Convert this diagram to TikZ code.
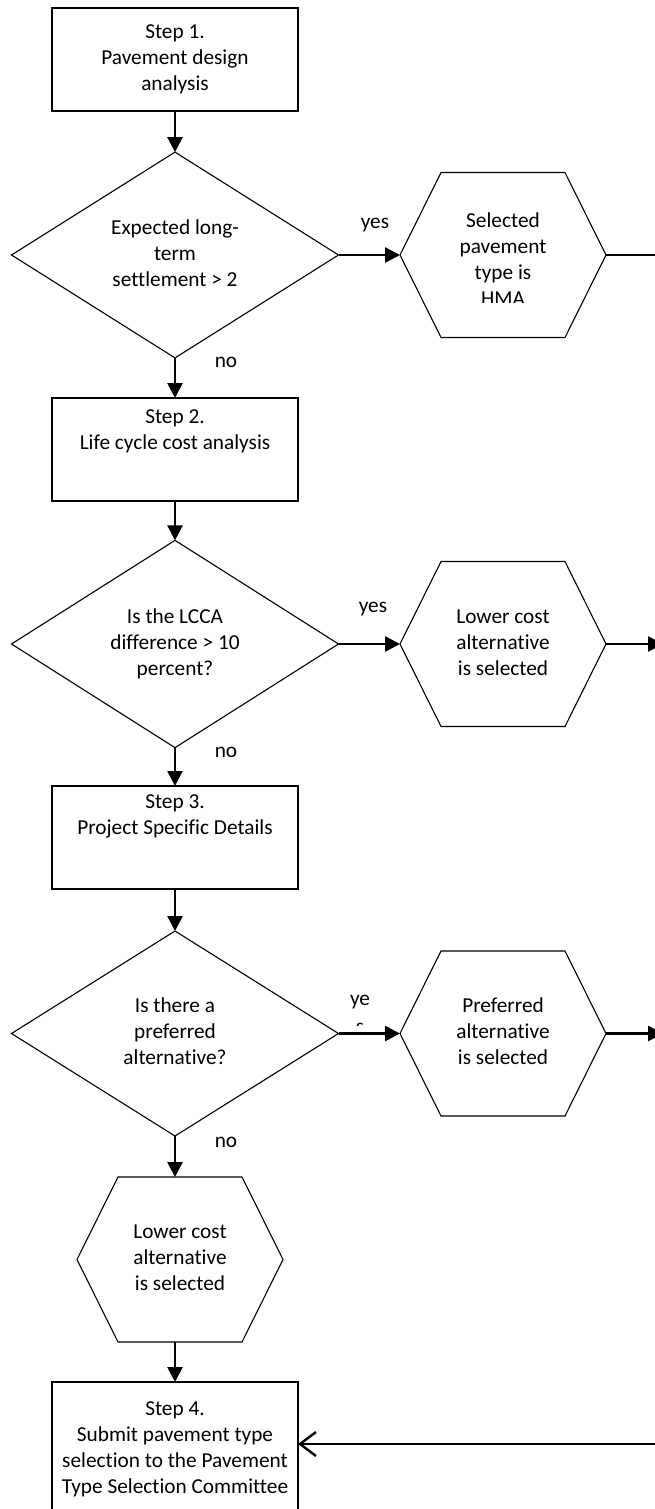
\documentclass[tikz,border=0pt]{standalone}
\usepackage{fontspec}
\setmainfont{Carlito}[RawFeature={-liga}]
\usetikzlibrary{arrows.meta,shapes.geometric,calc}
\newcommand\hexoutline[1]{\draw[shapeline] (#1.west) -- ($(#1.north west)+(41,0)$) -- ($(#1.north east)+(-41,0)$) -- (#1.east) -- ($(#1.south east)+(-41,0)$) -- ($(#1.south west)+(41,0)$) -- cycle;}
\begin{document}
\begin{tikzpicture}[x=1pt,y=-1pt,
  every node/.style={font=\fontsize{21.3}{26}\selectfont, align=center, inner sep=0pt, outer sep=0pt},
  shapeline/.style={draw=black, line width=1.1pt},
  stepbox/.style={shapeline, minimum width=246pt, minimum height=103pt},
  decision/.style={diamond, shapeline, minimum width=327pt, minimum height=205pt},
  hexbox/.style={minimum width=206pt, minimum height=165pt},
  conn/.style={line width=2.6pt, -{Triangle[length=15pt,width=15pt]}},
  plainconn/.style={line width=2.6pt},
  lbl/.style={font=\fontsize{21.3}{26}\selectfont}
]
\clip (0,0) rectangle (655,1509);
\fill[white] (0,0) rectangle (655,1509);

% Step 1
\node[stepbox] (s1) at (175,59.5) {\strut Step 1.\\ Pavement design\\ analysis\strut};
% Decision 1
\node[decision] (d1) at (175,255) {\strut Expected long-\\ term\\ settlement > 2\strut};
% Hexagon 1
\node[hexbox] (h1) at (503,255) {};
\hexoutline{h1}
\begin{scope}
  \clip (400,150) rectangle (606,302);
  \node (h1t) at (503,261) {\strut Selected\\ pavement\\ type is\\ HMA\strut};
\end{scope}
\node[lbl] (y1) at (375,225) {yes};
\node[lbl] (n1) at (226,362) {no};

% Step 2
\node[stepbox] (s2) at (175,449.5) {};
\node (s2t) at (175,431) {\strut Step 2.\\ Life cycle cost analysis\strut};
% Decision 2
\node[decision] (d2) at (175,644) {\strut Is the LCCA\\ difference > 10\\ percent?\strut};
\node[hexbox] (h2) at (503,644) {\strut Lower cost\\ alternative\\ is selected\strut};
\hexoutline{h2}
\node[lbl] (y2) at (373,609) {yes};
\node[lbl] (n2) at (226,752) {no};

% Step 3
\node[stepbox] (s3) at (175,837.5) {};
\node (s3t) at (175,816) {\strut Step 3.\\ Project Specific Details\strut};
% Decision 3
\node[decision] (d3) at (175,1033.5) {\strut Is there a\\ preferred\\ alternative?\strut};
\node[hexbox] (h3) at (503,1033.5) {\strut Preferred\\ alternative\\ is selected\strut};
\hexoutline{h3}
\node[lbl] (y3) at (360,1002) {ye};
\begin{scope}
  \clip (340,1010) rectangle (390,1025);
  \node[lbl] (y3b) at (360,1028) {s};
\end{scope}
\node[lbl] (n3) at (226,1142) {no};

% Lower cost hexagon
\node[hexbox] (h4) at (180,1259.5) {\strut Lower cost\\ alternative\\ is selected\strut};
\hexoutline{h4}

% Step 4
\node[stepbox, minimum height=150pt] (s4) at (175,1457) {};
\node (s4t) at (175,1449) {\strut Step 4.\\ Submit pavement type\\ selection to the Pavement\\ Type Selection Committee\strut};

% edge coordinates
\coordinate (e1) at (662,255);
\coordinate (e2) at (663,644);
\coordinate (e3) at (663,1033.5);
\coordinate (e4) at (665,1444);

% connectors
\draw[conn] (s1.south) -- (d1.north);
\draw[conn] (d1.south) -- (s2.north);
\draw[conn] (s2.south) -- (d2.north);
\draw[conn] (d2.south) -- (s3.north);
\draw[conn] (s3.south) -- (d3.north);
\draw[conn] (d3.south) -- (d3.south |- h4.north);
\draw[conn] (h4.south -| s4.north) -- (s4.north);

\draw[conn] (d1.east) -- (h1.west);
\draw[conn] (d2.east) -- (h2.west);
\draw[conn] (d3.east) -- (h3.west);

\draw[plainconn] (h1.east) -- (e1);
\draw[conn] (h2.east) -- (e2);
\draw[conn] (h3.east) -- (e3);
\draw[line width=2.6pt, -{Straight Barb[length=16pt,width=24pt,line width=2.4pt]}] (e4) -- (e4 -| s4.east);
\end{tikzpicture}
\end{document}
